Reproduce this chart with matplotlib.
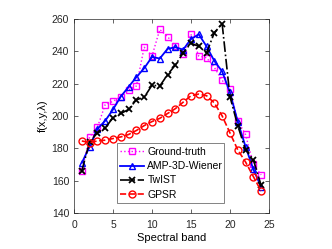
import matplotlib
matplotlib.use("Agg")
from matplotlib import pyplot as plt

bands = list(range(1, 25))

ground_truth = [166, 187, 193, 207, 209, 212, 216, 218.5, 242.5, 237, 253.5, 249,
                243.5, 238, 250.5, 237, 236, 230, 222, 216.5, 197, 188.5, 170, 163.5]
amp_wiener = [171, 181, 192, 197, 204, 212, 218, 224, 229.5, 236.5, 235.5, 241.5,
              242.5, 241, 247.5, 250.5, 243, 234, 227.5, 214.5, 196.5, 181, 167, 156]
twist = [166, 184, 189.5, 192.5, 199, 201.5, 204, 210, 211.5, 219, 218.5, 225.5,
         231.5, 239, 245, 243, 239, 251.5, 257, 212, 194, 179, 173, 157]
gpsr = [184.5, 183.5, 184.5, 185, 186, 187, 188.5, 191, 194, 196.5, 198.5, 201.5,
        204.5, 208.5, 212.5, 213.5, 212.5, 208, 200, 189.5, 179, 171.5, 162.5, 153.5]

labels = ["Ground-truth", "AMP-3D-Wiener", "TwIST", "GPSR"]

plt.rcParams['font.family'] = ['Liberation Sans', 'DejaVu Sans']

fig = plt.figure(figsize=(3.32, 2.49), dpi=100)
ax = fig.add_axes([0.223, 0.145, 0.587, 0.779])

ax.plot(bands, ground_truth, ':', color='#ff00ff', marker='s', mfc='none',
        ms=4, mew=1, lw=1, label=labels[0])
ax.plot(bands, amp_wiener, '-', color='#0000ff', marker='^', mfc='none',
        ms=5, mew=1, lw=1.3, label=labels[1])
ax.plot(bands, twist, '-.', color='black', marker='x', ms=5, mew=1.3,
        lw=1.2, label=labels[2])
ax.plot(bands, gpsr, '--', color='#ff0000', marker='o', mfc='none',
        ms=5, mew=1, lw=1.2, label=labels[3])

ax.set_xlim(0, 25)
ax.set_ylim(140, 260)
ax.set_xticks([0, 5, 10, 15, 20, 25])
ax.set_yticks(range(140, 261, 20))
ax.tick_params(direction='in', top=True, right=True, labelsize=7.5,
               length=3, width=0.5, colors='#262626')
ax.tick_params(axis='x', pad=5)
for s in ax.spines.values():
    s.set_linewidth(0.5)
    s.set_color('#262626')

ax.set_xlabel("Spectral band", fontsize=8, labelpad=2)
ax.set_ylabel("f(x,y,\u03bb)", fontsize=8, labelpad=3)

leg = ax.legend(loc='lower left', bbox_to_anchor=(0.219, 0.05, 0.552, 0.295),
                mode='expand', fontsize=7.5, frameon=True, fancybox=False,
                handlelength=2.3, borderpad=0.35, labelspacing=0.4,
                handletextpad=0.3, borderaxespad=0)
leg.get_frame().set_edgecolor('#262626')
leg.get_frame().set_linewidth(0.5)

fig.savefig("out.png", dpi=100)
